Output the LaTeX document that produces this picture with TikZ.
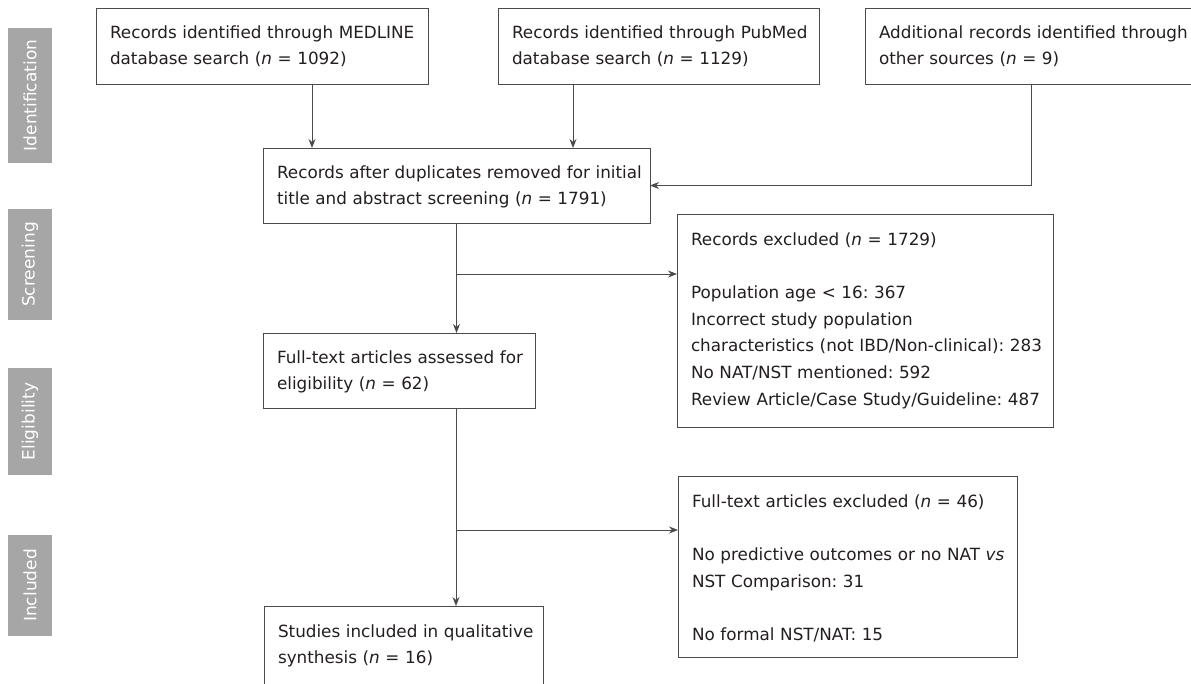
\documentclass[tikz,border=0pt]{standalone}
\usepackage{fontspec}
\setmainfont{DejaVu Sans}
\frenchspacing
\usetikzlibrary{arrows.meta,calc}
\definecolor{sidegrey}{RGB}{166,166,166}
\definecolor{linegrey}{RGB}{75,75,75}
\definecolor{txtcol}{RGB}{35,31,32}
\tikzset{
  boxnode/.style={draw=linegrey, line width=1pt, inner sep=0pt, outer sep=0pt, anchor=north west, fill=white},
  txtnode/.style={inner sep=0pt, outer sep=0pt, anchor=base west, align=left, text=txtcol,
     font=\fontsize{16.8}{26.7}\selectfont},
  sidenode/.style={fill=sidegrey, rotate=90, minimum height=44pt, inner sep=0pt, outer sep=0pt,
     text=white, font=\fontsize{17}{20}\selectfont},
  arr/.style={draw=linegrey, line width=1pt, -{Stealth[length=9pt,width=7pt]}},
  ln/.style={draw=linegrey, line width=1pt}
}
\begin{document}
\begin{tikzpicture}[x=1pt,y=-1pt]
\clip (0,0) rectangle (1191,683);
\fill[white] (0,0) rectangle (1191,683);

% side labels
\node[sidenode, minimum width=135pt] (sid) at (30,95.5) {Identification};
\node[sidenode, minimum width=111pt] (sscr) at (30,264.5) {Screening};
\node[sidenode, minimum width=107pt] (selig) at (30,421.5) {Eligibility};
\node[sidenode, minimum width=101pt] (sinc) at (30,585.5) {Included};

% boxes
\node[boxnode, minimum width=332pt, minimum height=76pt] (med) at (96,8) {};
\node[boxnode, minimum width=321pt, minimum height=76pt] (pub) at (498,8) {};
\node[boxnode, minimum width=400pt, minimum height=76pt] (oth) at (865,8) {};
\node[boxnode, minimum width=387pt, minimum height=75pt] (dup) at (263,148) {};
\node[boxnode, minimum width=376pt, minimum height=213pt] (ex1) at (677,214) {};
\node[boxnode, minimum width=272pt, minimum height=75pt] (ft) at (263,333) {};
\node[boxnode, minimum width=339pt, minimum height=181pt] (ex2) at (678,476) {};
\node[boxnode, minimum width=279pt, minimum height=120pt] (st) at (264,606) {};

% texts
\node[txtnode, text width=320pt] (medt) at (110,38) {Records identified through MEDLINE\\database search (\textit{n} = 1092)};
\node[txtnode, text width=320pt] (pubt) at (512,38) {Records identified through PubMed\\database search (\textit{n} = 1129)};
\node[txtnode, text width=340pt] (otht) at (879,38) {Additional records identified through\\other sources (\textit{n} = 9)};
\node[txtnode, text width=380pt] (dupt) at (277,178) {Records after duplicates removed for initial\\title and abstract screening (\textit{n} = 1791)};
\node[txtnode, text width=370pt] (ex1t) at (691,245) {Records excluded (\textit{n} = 1729)\\[26.7pt]Population age < 16: 367\\Incorrect study population\\characteristics (not IBD/Non-clinical): 283\\No NAT/NST mentioned: 592\\Review Article/Case Study/Guideline: 487};
\node[txtnode, text width=270pt] (ftt) at (277,363) {Full-text articles assessed for\\eligibility (\textit{n} = 62)};
\node[txtnode, text width=340pt] (ex2t) at (692,507) {Full-text articles excluded (\textit{n} = 46)\\[26.7pt]No predictive outcomes or no NAT \textit{vs}\\NST Comparison: 31\\[26.7pt]No formal NST/NAT: 15};
\node[txtnode, text width=270pt] (stt) at (278,637) {Studies included in qualitative\\synthesis (\textit{n} = 16)};

% helper coordinates
\coordinate (m1) at (312,0);
\coordinate (p1) at (573,0);
\coordinate (o1) at (1031,185.5);
\coordinate (b1) at (456,274);
\coordinate (b2) at (456,530);

% connectors
\draw[arr] (m1 |- med.south) -- (m1 |- dup.north);
\draw[arr] (p1 |- pub.south) -- (p1 |- dup.north);
\draw[arr] (o1 |- oth.south) -- (o1) -- (o1 -| dup.east);
\draw[arr] (dup.south) -- (dup.south |- ft.north);
\draw[arr] (b1) -- (b1 -| ex1.west);
\draw[arr] (b1 |- ft.south) -- (b1 |- st.north);
\draw[arr] (b2) -- (b2 -| ex2.west);
\end{tikzpicture}
\end{document}
